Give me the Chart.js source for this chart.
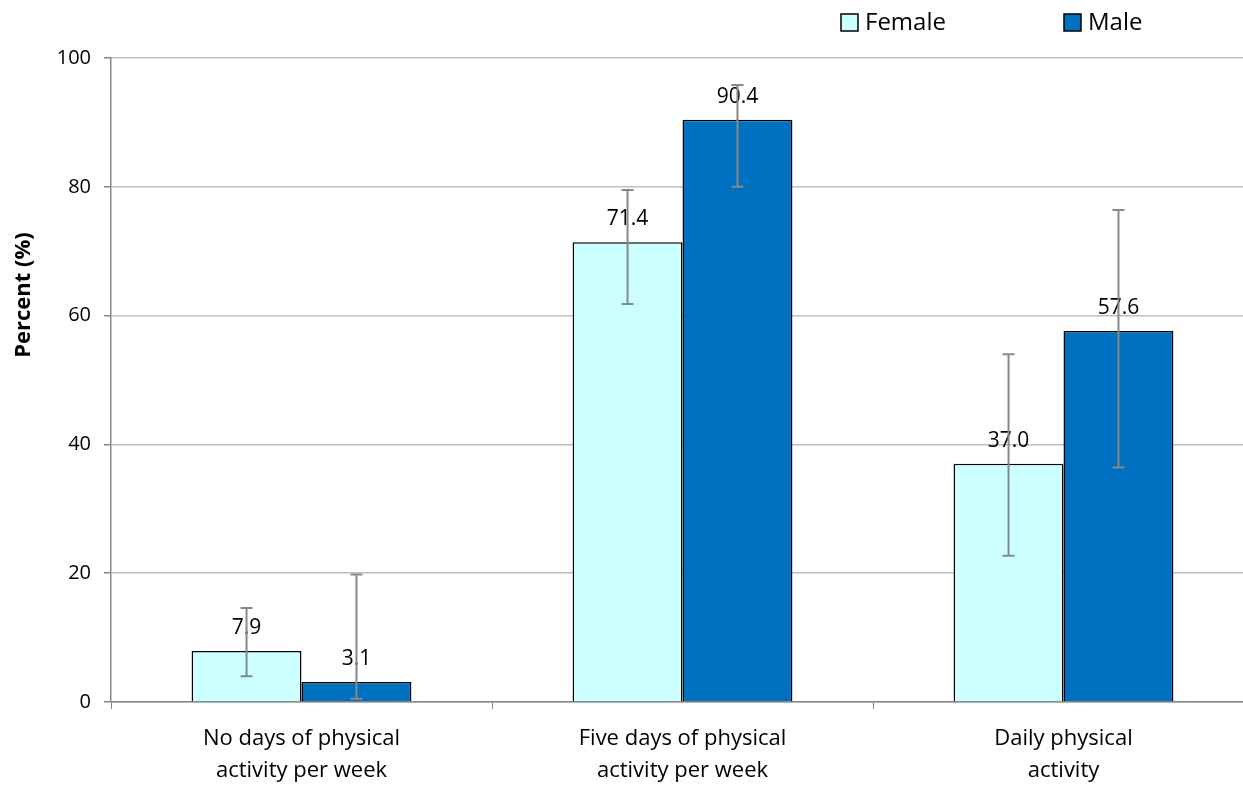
<!DOCTYPE html>
<html>
<head>
    <meta charset="utf-8">
    <title>Physical activity by sex</title>
    <style>
        html, body { margin: 0; padding: 0; background: #fff; overflow: hidden; }
        #wrap { width: 1262px; height: 787px; }
    </style>
</head>
<body>
    <div id="wrap">
        <canvas id="myChart"></canvas>
    </div>
    <script src="https://cdn.jsdelivr.net/npm/chart.js"></script>
    <script>
        const categories = [
            ['No days of physical', 'activity per week'],
            ['Five days of physical', 'activity per week'],
            ['Daily physical', 'activity']
        ];
        const femaleValues = [7.9, 71.4, 37.0];
        const maleValues = [3.1, 90.4, 57.6];
        // confidence intervals
        const femaleLow = [4.0, 61.8, 22.7];
        const femaleHigh = [14.6, 79.5, 54.0];
        const maleLow = [0.5, 80.0, 36.4];
        const maleHigh = [19.8, 95.8, 76.4];
        const yTicks = [0, 20, 40, 60, 80, 100];

        const fontFamily = "'Open Sans', sans-serif";

        // error bars + value labels + legend + axis title, drawn after the bars
        const extras = {
            id: 'extras',
            afterDatasetsDraw(chart) {
                const ctx = chart.ctx;
                const y = chart.scales.y;
                const lows = [femaleLow, maleLow];
                const highs = [femaleHigh, maleHigh];
                ctx.save();
                chart.data.datasets.forEach((ds, di) => {
                    const meta = chart.getDatasetMeta(di);
                    meta.data.forEach((bar, i) => {
                        ctx.fillStyle = '#000';
                        ctx.font = '21px ' + fontFamily;
                        ctx.textAlign = 'center';
                        ctx.textBaseline = 'middle';
                        ctx.fillText(ds.data[i].toFixed(1), bar.x, bar.y - 23);
                    });
                });
                chart.data.datasets.forEach((ds, di) => {
                    const meta = chart.getDatasetMeta(di);
                    meta.data.forEach((bar, i) => {
                        const top = y.getPixelForValue(highs[di][i]);
                        const bot = y.getPixelForValue(lows[di][i]);
                        ctx.strokeStyle = '#888888';
                        ctx.lineWidth = 2;
                        ctx.beginPath();
                        ctx.moveTo(bar.x, top);
                        ctx.lineTo(bar.x, bot);
                        ctx.moveTo(bar.x - 6, top);
                        ctx.lineTo(bar.x + 6, top);
                        ctx.moveTo(bar.x - 6, bot);
                        ctx.lineTo(bar.x + 6, bot);
                        ctx.stroke();
                    });
                });
                // legend
                const legendX = [841, 1064];
                chart.data.datasets.forEach((ds, di) => {
                    ctx.fillStyle = ds.backgroundColor;
                    ctx.fillRect(legendX[di], 14, 17, 17);
                    ctx.strokeStyle = '#000';
                    ctx.lineWidth = 1.5;
                    ctx.strokeRect(legendX[di], 14, 17, 17);
                    ctx.fillStyle = '#000';
                    ctx.font = '24px ' + fontFamily;
                    ctx.textAlign = 'left';
                    ctx.textBaseline = 'middle';
                    ctx.fillText(ds.label, legendX[di] + 24, 23);
                });
                // y axis title
                ctx.translate(24, 295);
                ctx.rotate(-Math.PI / 2);
                ctx.fillStyle = '#000';
                ctx.font = 'bold 22px ' + fontFamily;
                ctx.textAlign = 'center';
                ctx.textBaseline = 'middle';
                ctx.fillText('Percent (%)', 0, 0);
                ctx.restore();
            }
        };

        const data = {
            labels: categories,
            datasets: [
                {
                    label: 'Female',
                    data: femaleValues,
                    backgroundColor: '#CCFFFF',
                    borderColor: '#000000',
                    borderWidth: 1.5
                },
                {
                    label: 'Male',
                    data: maleValues,
                    backgroundColor: '#0070C0',
                    borderColor: '#000000',
                    borderWidth: 1.5
                }
            ]
        };

        const config = {
            type: 'bar',
            data: data,
            plugins: [extras],
            options: {
                responsive: true,
                maintainAspectRatio: false,
                animation: false,
                layout: { padding: { top: 58, right: 8, left: 0, bottom: 0 } },
                datasets: {
                    bar: { barPercentage: 1.0, categoryPercentage: 0.577 }
                },
                plugins: {
                    legend: { display: false },
                    tooltip: { enabled: false }
                },
                scales: {
                    x: {
                        offset: true,
                        grid: {
                            offset: true,
                            drawOnChartArea: false,
                            drawTicks: true,
                            tickLength: 7,
                            color: '#868686'
                        },
                        border: { color: '#868686', width: 1.5 },
                        ticks: {
                            color: '#000',
                            font: { family: fontFamily, size: 22, lineHeight: 1.45 },
                            padding: 14,
                            maxRotation: 0,
                            autoSkip: false
                        },
                        afterFit(scale) { scale.height = 85; }
                    },
                    y: {
                        min: 0,
                        max: 100,
                        afterBuildTicks(scale) {
                            scale.ticks = yTicks.map(v => ({ value: v }));
                        },
                        grid: {
                            color: '#C0C0C0',
                            lineWidth: 1.5,
                            tickLength: 7,
                            tickColor: '#868686'
                        },
                        border: { color: '#868686', width: 1.5 },
                        ticks: {
                            color: '#000',
                            font: { family: fontFamily, size: 20 },
                            padding: 13
                        },
                        afterFit(scale) { scale.width = 111; }
                    }
                }
            }
        };

        const myChart = new Chart(document.getElementById('myChart'), config);
    </script>
</body>
</html>
